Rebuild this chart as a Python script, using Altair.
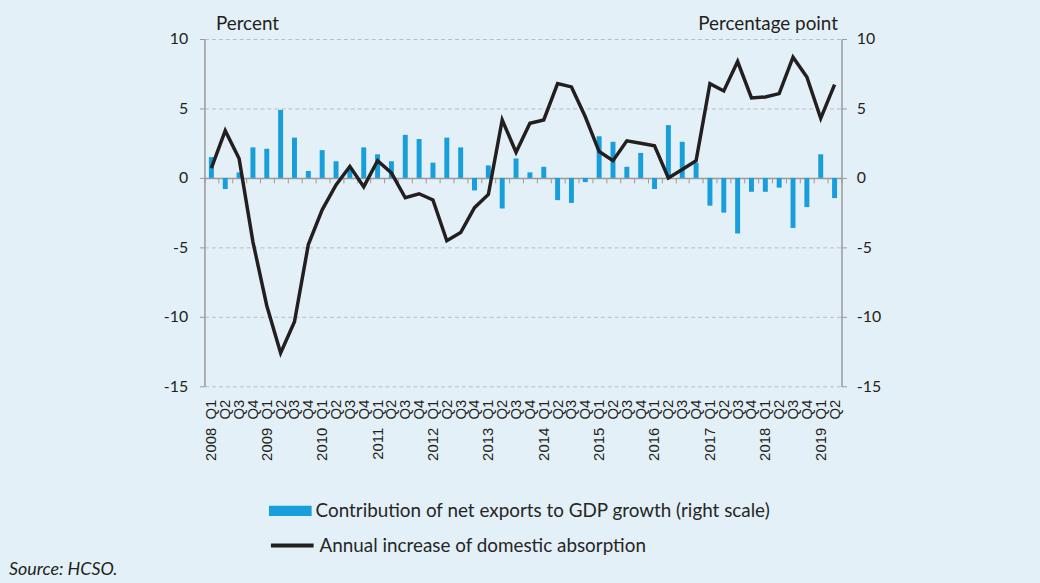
import altair as alt
import pandas as pd

years = ["2008", "2009", "2010", "2011", "2012", "2013", "2014", "2015",
         "2016", "2017", "2018", "2019"]
quarters = ["Q1", "Q2", "Q3", "Q4"]
periods = [f"{y} {q}" for y in years for q in quarters][:46]

# Contribution of net exports to GDP growth (percentage point, right scale)
net_exports = [1.5, -0.8, 0.4, 2.2, 2.1, 4.9, 2.9, 0.5, 2.0, 1.2, 0.6, 2.2,
               1.7, 1.2, 3.1, 2.8, 1.1, 2.9, 2.2, -0.9, 0.9, -2.2, 1.4, 0.4,
               0.8, -1.6, -1.8, -0.3, 3.0, 2.6, 0.8, 1.8, -0.8, 3.8, 2.6, 1.1,
               -2.0, -2.5, -4.0, -1.0, -1.0, -0.7, -3.6, -2.1, 1.7, -1.45]

# Annual increase of domestic absorption (percent, left scale)
absorption = [0.7, 3.4, 1.4, -4.6, -9.2, -12.6, -10.35, -4.8, -2.3, -0.5, 0.83, -0.64,
              1.24, 0.36, -1.43, -1.14, -1.59, -4.52, -3.93, -2.14, -1.19, 4.17, 1.85, 3.93,
              4.17, 6.79, 6.55, 4.4, 1.9, 1.24, 2.67, 2.5, 2.31, 0.0, 0.6, 1.24,
              6.79, 6.26, 8.38, 5.76, 5.83, 6.07, 8.69, 7.26, 4.29, 6.71]

bar_name = "Contribution of net exports to GDP growth (right scale)"
line_name = "Annual increase of domestic absorption"

df = pd.DataFrame({
    "period": periods,
    "net": net_exports,
    "absorption": absorption,
    "bar_series": bar_name,
    "line_series": line_name,
})

BG = "#e3f0f7"
BLUE = "#189fdb"
LINE = "#231f20"
GRAY = "#9a9a9a"
TXT = "#231f20"
FONT = "Lato"
ticks_y = [-15, -10, -5, 0, 5, 10]
minus_expr = "replace(datum.label, '\u2212', '-')"

x_scale = alt.Scale(paddingInner=0, paddingOuter=0)
y_scale = alt.Scale(domain=[-15, 10], nice=False)

label_expr = ("indexof(datum.label, 'Q1') >= 0 ? "
              "replace(datum.label, ' ', '\u00a0\u00a0') : split(datum.label, ' ')[1]")

bars = alt.Chart(df).mark_bar(size=5).encode(
    x=alt.X("period:N", sort=periods, scale=x_scale,
            axis=alt.Axis(orient="bottom", labels=False, title=None, grid=False,
                          domain=True, domainColor=GRAY, domainWidth=1.5,
                          ticks=True, tickColor=GRAY, tickSize=5, tickWidth=1,
                          tickBand="extent", offset=-210)),
    y=alt.Y("net:Q", scale=y_scale,
            axis=alt.Axis(orient="right", values=ticks_y, grid=False, labelExpr=minus_expr,
                          domainColor=GRAY, domainWidth=1.5, tickColor=GRAY, tickSize=5,
                          labelFont=FONT, labelFontSize=16, labelColor=TXT,
                          labelPadding=10,
                          title="Percentage point", titleAngle=0, titleX=-4, titleY=-6,
                          titleAlign="right", titleBaseline="bottom",
                          titleFont=FONT, titleFontSize=19, titleFontWeight="normal",
                          titleColor=TXT)),
    color=alt.Color("bar_series:N", scale=alt.Scale(domain=[bar_name], range=[BLUE]),
                    legend=alt.Legend(title=None, orient="none", legendX=65, legendY=454,
                                      symbolType="M-1,-0.24L1,-0.24L1,0.24L-1,0.24Z",
                                      symbolSize=1849, symbolStrokeWidth=0,
                                      labelFont=FONT, labelFontSize=19, labelColor="#262626",
                                      labelOffset=4, labelLimit=0, padding=0)),
)

line = alt.Chart(df).mark_line(strokeWidth=3.5, strokeJoin="miter").encode(
    x=alt.X("period:N", sort=periods, scale=x_scale,
            axis=alt.Axis(orient="bottom", title=None, grid=False, domain=False, ticks=False,
                          labelAngle=-90, labelExpr=label_expr, labelOverlap=False,
                          labelFont="Liberation Sans", labelFontSize=15, labelColor=TXT,
                          labelPadding=13)),
    y=alt.Y("absorption:Q", scale=y_scale,
            axis=alt.Axis(orient="left", values=ticks_y, grid=True, gridColor="#bdbdbd",
                          gridDash=[4, 3], gridWidth=1, labelExpr=minus_expr,
                          domainColor=GRAY, domainWidth=1.5, tickColor=GRAY, tickSize=5,
                          labelFont=FONT, labelFontSize=16, labelColor=TXT,
                          labelPadding=12,
                          title="Percent", titleAngle=0, titleX=11, titleY=-6,
                          titleAlign="left", titleBaseline="bottom",
                          titleFont=FONT, titleFontSize=19, titleFontWeight="normal",
                          titleColor=TXT)),
    stroke=alt.Stroke("line_series:N", scale=alt.Scale(domain=[line_name], range=[LINE]),
                      legend=alt.Legend(title=None, orient="none", legendX=65, legendY=487,
                                        symbolType="stroke", symbolSize=1849,
                                        symbolStrokeWidth=4,
                                        labelFont=FONT, labelFontSize=19, labelColor="#262626",
                                        labelOffset=4, labelLimit=0, padding=0)),
)

chart = alt.layer(bars, line).resolve_scale(
    y="independent", color="independent", stroke="independent"
).resolve_axis(x="independent").properties(
    width=642, height=350,
    autosize=alt.AutoSizeParams(type="none"),
    padding={"left": 198, "top": 29, "right": 192, "bottom": 196},
    title=alt.TitleParams("Source: HCSO.", orient="bottom", anchor="start", frame="group",
                          dx=-197, offset=5, font=FONT, fontSize=18, fontStyle="italic",
                          fontWeight="normal", color=TXT),
).configure(background=BG).configure_view(stroke=None)

chart.save("out.html", embed_options={"renderer": "svg", "actions": False})

# give the page margin the same background as the chart, and let the chart reach
# the bottom edge of the window without scrolling
with open("out.html", encoding="utf-8") as f:
    html = f.read()
style = (f"<style>html, body {{ background: {BG}; }} "
         "body { margin: 8px 8px 0 8px; overflow: hidden; }</style>")
html = html.replace("<head>", "<head>\n" + style, 1)
with open("out.html", "w", encoding="utf-8") as f:
    f.write(html)
